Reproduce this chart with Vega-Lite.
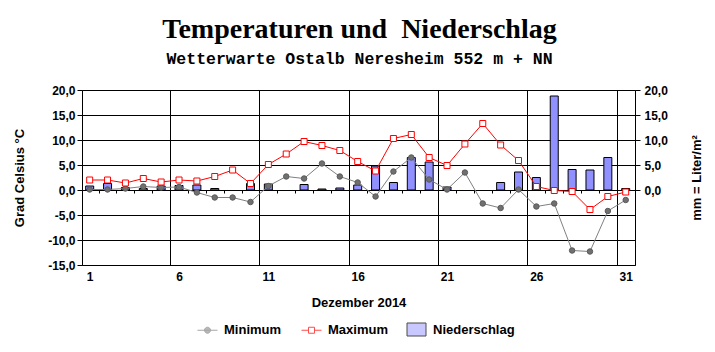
{
  "$schema": "https://vega.github.io/schema/vega-lite/v6.json",
  "width": 553,
  "height": 175,
  "autosize": {"type": "none"},
  "padding": {"left": 82, "top": 90, "right": 80, "bottom": 87},
  "background": "white",
  "title": {
    "text": "Temperaturen und\u00a0 Niederschlag",
    "subtitle": "Wetterwarte Ostalb Neresheim 552 m + NN",
    "anchor": "middle",
    "font": "Liberation Serif",
    "fontSize": 28,
    "fontWeight": "bold",
    "color": "black",
    "subtitleFont": "Liberation Mono",
    "subtitleFontSize": 16.5,
    "subtitleFontWeight": "bold",
    "subtitleColor": "black",
    "subtitlePadding": 7,
    "offset": 17,
    "dx": 1
  },
  "config": {
    "locale": {"number": {"decimal": ",", "thousands": ".", "grouping": [3], "currency": ["", " €"], "minus": "-"}},
    "view": {"stroke": "black", "strokeWidth": 1},
    "axis": {
      "labelFont": "Liberation Sans",
      "labelFontWeight": "bold",
      "labelFontSize": 12,
      "labelColor": "black",
      "titleFont": "Liberation Sans",
      "titleFontWeight": "bold",
      "titleFontSize": 13,
      "titleColor": "black",
      "domainColor": "black",
      "tickColor": "black",
      "gridColor": "black",
      "gridOpacity": 1,
      "gridWidth": 1
    }
  },
  "data": {
    "values": [
      {"day": 1, "min": 0.1, "max": 2.0, "precip": 0.8},
      {"day": 2, "min": 0.1, "max": 2.0, "precip": 1.3},
      {"day": 3, "min": 0.3, "max": 1.4, "precip": 0.5},
      {"day": 4, "min": 0.7, "max": 2.3, "precip": 0.3},
      {"day": 5, "min": 0.5, "max": 1.6, "precip": 0.8},
      {"day": 6, "min": 0.6, "max": 2.0, "precip": 0.9},
      {"day": 7, "min": -0.5, "max": 1.8, "precip": 1.0},
      {"day": 8, "min": -1.5, "max": 2.7, "precip": 0.3},
      {"day": 9, "min": -1.5, "max": 4.0, "precip": 0},
      {"day": 10, "min": -2.4, "max": 1.3, "precip": 1.3},
      {"day": 11, "min": 0.8, "max": 5.1, "precip": 1.2},
      {"day": 12, "min": 2.7, "max": 7.2, "precip": 0},
      {"day": 13, "min": 2.3, "max": 9.7, "precip": 1.1},
      {"day": 14, "min": 5.3, "max": 8.9, "precip": 0.2},
      {"day": 15, "min": 2.7, "max": 7.9, "precip": 0.4},
      {"day": 16, "min": 1.5, "max": 5.7, "precip": 1.0},
      {"day": 17, "min": -1.3, "max": 3.8, "precip": 4.8},
      {"day": 18, "min": 3.7, "max": 10.3, "precip": 1.5},
      {"day": 19, "min": 6.5, "max": 11.1, "precip": 6.5},
      {"day": 20, "min": 2.1, "max": 6.5, "precip": 5.6},
      {"day": 21, "min": 0.1, "max": 4.9, "precip": 0.6},
      {"day": 22, "min": 3.5, "max": 9.2, "precip": 0},
      {"day": 23, "min": -2.7, "max": 13.3, "precip": 0},
      {"day": 24, "min": -3.6, "max": 9.0, "precip": 1.5},
      {"day": 25, "min": 0.1, "max": 5.9, "precip": 3.6},
      {"day": 26, "min": -3.3, "max": 0.7, "precip": 2.5},
      {"day": 27, "min": -2.7, "max": -0.1, "precip": 18.8},
      {"day": 28, "min": -12.1, "max": -0.3, "precip": 4.1},
      {"day": 29, "min": -12.3, "max": -3.9, "precip": 4.0},
      {"day": 30, "min": -4.2, "max": -1.3, "precip": 6.5},
      {"day": 31, "min": -2.0, "max": -0.4, "precip": 0.3}
    ]
  },
  "layer": [
    {
      "transform": [{"filter": "datum.precip > 0"}],
      "mark": {"type": "bar", "width": 8, "stroke": "black", "strokeWidth": 1, "fill": "#9090ff"},
      "encoding": {
        "x": {
          "field": "day", "type": "quantitative",
          "scale": {"domain": [0.57, 31.52], "nice": false, "zero": false, "padding": 0},
          "axis": {
            "orient": "bottom", "values": [1, 6, 11, 16, 21, 26, 31],
            "ticks": false, "domain": false, "grid": false, "labelPadding": 6,
            "title": "Dezember 2014", "titleY": 41, "titleBaseline": "alphabetic"
          }
        },
        "y": {
          "field": "precip", "type": "quantitative",
          "scale": {"domain": [-15, 20], "nice": false, "zero": false},
          "axis": {
            "orient": "right", "values": [0, 5, 10, 15, 20], "format": ".1f",
            "grid": false, "domain": false, "tickSize": 5, "labelPadding": 4,
            "title": "mm = Liter/m²", "titleAngle": -90, "titleX": 61, "titleY": 87.5,
            "titleAlign": "center", "titleBaseline": "middle"
          }
        }
      }
    },
    {
      "mark": {
        "type": "line", "color": "#808080", "strokeWidth": 1,
        "point": {"filled": true, "shape": "circle", "size": 30, "fill": "#707070", "stroke": "#5a5a5a", "strokeWidth": 1}
      },
      "encoding": {
        "x": {
          "field": "day", "type": "quantitative",
          "scale": {"domain": [0.57, 31.52], "nice": false, "zero": false, "padding": 0},
          "axis": {
            "orient": "bottom", "offset": -75,
            "values": [1.5, 2.5, 3.5, 4.5, 5.5, 6.5, 7.5, 8.5, 9.5, 10.5, 11.5, 12.5, 13.5, 14.5, 15.5, 16.5, 17.5, 18.5, 19.5, 20.5, 21.5, 22.5, 23.5, 24.5, 25.5, 26.5, 27.5, 28.5, 29.5, 30.5],
            "labels": false, "tickSize": 3, "domain": false, "grid": false, "title": null
          }
        },
        "y": {
          "field": "min", "type": "quantitative",
          "scale": {"domain": [-15, 20], "nice": false, "zero": false},
          "axis": {
            "orient": "left", "values": [-15, -10, -5, 0, 5, 10, 15, 20], "format": ".1f",
            "grid": true, "domain": false, "tickSize": 5, "labelPadding": 2,
            "title": "Grad Celsius °C", "titleAngle": -90, "titleX": -63, "titleY": 87.5,
            "titleAlign": "center", "titleBaseline": "middle"
          }
        }
      }
    },
    {
      "mark": {
        "type": "line", "color": "#ff0000", "strokeWidth": 1,
        "point": {"filled": true, "shape": "square", "size": 36, "fill": "white", "stroke": "#ff0000", "strokeWidth": 1}
      },
      "encoding": {
        "x": {
          "field": "day", "type": "quantitative",
          "scale": {"domain": [0.57, 31.52], "nice": false, "zero": false, "padding": 0},
          "axis": {
            "orient": "top", "values": [5.5, 10.5, 15.5, 20.5, 25.5, 30.5],
            "labels": false, "ticks": false, "domain": false, "grid": true, "title": null
          }
        },
        "y": {
          "field": "max", "type": "quantitative",
          "scale": {"domain": [-15, 20], "nice": false, "zero": false},
          "axis": null
        }
      }
    },
    {
      "data": {"values": []},
      "mark": {"type": "point", "filled": true, "strokeWidth": 1, "size": 400},
      "encoding": {
        "shape": {
          "field": "s", "type": "nominal",
          "scale": {
            "domain": ["Minimum", "Maximum", "Niederschlag"],
            "range": [
              "M-1,0H1M-0.3,0A0.3,0.3,0,1,1,0.3,0A0.3,0.3,0,1,1,-0.3,0Z",
              "M-1,0H-0.3M0.3,0H1M-0.3,-0.3H0.3V0.3H-0.3Z",
              "M-0.95,-0.65H0.95V0.65H-0.95Z"
            ]
          },
          "legend": {
            "title": null, "orient": "none", "direction": "horizontal", "columns": 3,
            "legendX": 115, "legendY": 229, "padding": 0,
            "symbolSize": 400, "symbolStrokeWidth": 1, "columnPadding": 17,
            "labelFont": "Liberation Sans", "labelFontWeight": "bold", "labelFontSize": 13,
            "labelColor": "black", "labelOffset": 6,
            "encode": {"symbols": {"update": {"opacity": {"value": 1}, "fillOpacity": {"value": 1}, "strokeOpacity": {"value": 1}}}}
          }
        },
        "fill": {
          "field": "s", "type": "nominal",
          "scale": {"domain": ["Minimum", "Maximum", "Niederschlag"], "range": ["#707070", "#ffffff", "#9090ff"]},
          "legend": {"title": null}
        },
        "stroke": {
          "field": "s", "type": "nominal",
          "scale": {"domain": ["Minimum", "Maximum", "Niederschlag"], "range": ["#808080", "#ff0000", "#000000"]},
          "legend": {"title": null}
        }
      }
    }
  ],
  "resolve": {"axis": {"x": "independent", "y": "independent"}}
}
